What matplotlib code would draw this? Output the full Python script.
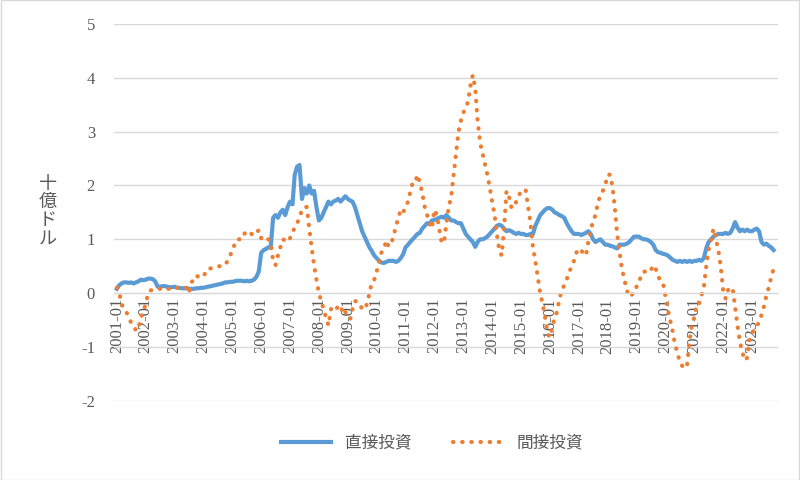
import matplotlib.pyplot as plt
import matplotlib.dates as mdates
import numpy as np
import pandas as pd

# monthly values, 2001-01 .. 2023-10 (billion USD)
direct = [
    0.08, 0.15, 0.18, 0.2, 0.2, 0.19, 0.2, 0.18, 0.2, 0.22, 0.25, 0.24,
    0.25, 0.27, 0.27, 0.26, 0.22, 0.12, 0.12, 0.13, 0.13, 0.12, 0.11, 0.11,
    0.12, 0.1, 0.1, 0.09, 0.09, 0.09, 0.08, 0.08, 0.08, 0.09, 0.09, 0.1,
    0.1, 0.11, 0.12, 0.13, 0.14, 0.15, 0.16, 0.17, 0.18, 0.2, 0.2, 0.21,
    0.21, 0.22, 0.23, 0.23, 0.23, 0.22, 0.23, 0.22, 0.23, 0.25, 0.3, 0.4,
    0.75, 0.8, 0.82, 0.85, 0.85, 1.4, 1.45, 1.4, 1.5, 1.55, 1.45, 1.6,
    1.7, 1.65, 2.2, 2.35, 2.38, 1.75, 1.95, 1.85, 2.0, 1.85, 1.9, 1.6,
    1.35, 1.4, 1.5, 1.6, 1.7, 1.65, 1.7, 1.72, 1.75, 1.7, 1.75, 1.8,
    1.75, 1.72, 1.7, 1.6, 1.45, 1.3, 1.15, 1.05, 0.95, 0.85, 0.78, 0.7,
    0.65, 0.6, 0.57, 0.56, 0.58, 0.6, 0.6, 0.6, 0.58, 0.6, 0.65, 0.72,
    0.85, 0.9, 0.95, 1.0, 1.05, 1.1, 1.12, 1.2, 1.25, 1.3, 1.28, 1.35,
    1.36, 1.38, 1.4, 1.42, 1.4, 1.45, 1.4, 1.35, 1.35, 1.32, 1.3, 1.3,
    1.2, 1.1, 1.05, 1.0, 0.95, 0.86, 0.95, 1.0, 1.0, 1.02, 1.05, 1.1,
    1.15, 1.2, 1.25, 1.27, 1.25, 1.2, 1.15, 1.17, 1.15, 1.12, 1.1, 1.12,
    1.1, 1.1, 1.08, 1.08, 1.1, 1.1, 1.25, 1.35, 1.45, 1.5, 1.55, 1.58,
    1.58, 1.55, 1.5, 1.48, 1.45, 1.43, 1.4, 1.3, 1.22, 1.15, 1.1, 1.1,
    1.1, 1.08, 1.1, 1.12, 1.15, 1.1, 1.0, 0.95, 0.98, 1.0, 0.95, 0.9,
    0.9, 0.88, 0.87, 0.85, 0.83, 0.9, 0.9, 0.9, 0.92, 0.95, 1.0, 1.05,
    1.05, 1.05, 1.02, 1.0, 1.0, 0.98, 0.95, 0.9, 0.8, 0.76, 0.75, 0.73,
    0.72, 0.7, 0.66, 0.62, 0.6, 0.58, 0.6, 0.58, 0.6, 0.58, 0.6, 0.58,
    0.6, 0.6, 0.62, 0.6, 0.65, 0.83, 0.95, 1.0, 1.05, 1.08, 1.1, 1.1,
    1.1, 1.12, 1.1, 1.12, 1.2, 1.32, 1.22, 1.15, 1.18, 1.15, 1.18, 1.15,
    1.15, 1.18, 1.2, 1.15, 0.95, 0.9, 0.92, 0.88, 0.85, 0.8,
]
indirect = [
    0.1, 0.0, -0.2, -0.3, -0.35, -0.45, -0.55, -0.6, -0.7, -0.65, -0.45, -0.35,
    -0.2, 0.0, 0.05, 0.06, 0.08, 0.08, 0.08, 0.08, 0.1, 0.08, 0.08, 0.1,
    0.1, 0.1, 0.08, 0.1, 0.1, 0.1, 0.0, 0.2, 0.25, 0.33, 0.3, 0.3,
    0.3, 0.4, 0.46, 0.46, 0.47, 0.48, 0.5, 0.5, 0.5, 0.52, 0.6, 0.67,
    0.83, 0.9, 1.0, 1.0, 1.0, 1.1, 1.15, 1.15, 1.1, 1.07, 1.12, 1.17,
    1.02, 1.05, 1.05, 1.0, 0.93, 0.6, 0.52, 0.7, 0.85, 1.0, 0.98, 0.95,
    1.02, 1.15, 1.2, 1.3, 1.4, 1.55, 1.6, 1.6, 1.2, 0.85, 0.52, 0.25,
    0.0, -0.15, -0.3, -0.45, -0.6, -0.3, -0.25, -0.3, -0.25, -0.22, -0.4, -0.35,
    -0.45, -0.48, -0.3, -0.15, -0.15, -0.2, -0.3, -0.3, -0.2, 0.0, 0.2, 0.25,
    0.4, 0.6, 0.75, 0.8, 0.98, 0.87, 0.9, 1.06, 1.23, 1.4, 1.55, 1.5,
    1.6, 1.7, 1.88, 2.05, 2.05, 2.2, 2.05, 1.86, 1.6, 1.45, 1.3, 1.2,
    1.55, 1.45, 1.2, 0.95, 0.93, 1.3, 1.6, 1.8, 2.2, 2.6, 3.0, 3.2,
    3.35, 3.45, 3.55, 3.85, 4.05, 3.8, 3.2, 2.8, 2.6, 2.4, 2.2, 1.97,
    1.7, 1.45, 1.1, 0.8, 0.7, 1.2, 1.9, 1.8, 1.6, 1.58, 1.7, 1.8,
    1.9, 1.9, 1.92, 1.6, 1.3, 0.85, 0.6, 0.3, 0.0, -0.2, -0.45, -0.75,
    -0.82, -0.65, -0.45, -0.35, -0.1, 0.05, 0.15, 0.25, 0.4, 0.48, 0.6, 0.75,
    0.83, 0.8, 0.72, 0.7, 0.95, 1.15, 1.35, 1.45, 1.7, 1.8, 1.9, 2.0,
    2.2, 2.2, 2.0, 1.6, 1.1, 0.75, 0.45, 0.25, 0.05, -0.07, -0.03, 0.0,
    0.12, 0.18, 0.35, 0.4, 0.4, 0.38, 0.42, 0.52, 0.45, 0.3, 0.25, 0.2,
    -0.05, -0.3, -0.5, -0.7, -0.95, -1.1, -1.28, -1.35, -1.4, -1.35, -0.9, -0.6,
    -0.45, -0.2, -0.2, -0.05, 0.1, 0.5, 0.8, 1.0, 1.2, 1.0, 0.8, 0.5,
    0.05, -0.1, 0.05, 0.1, 0.1, -0.25, -0.6, -0.9, -1.1, -1.25, -1.2, -0.85,
    -0.75, -0.65, -0.6, -0.55, -0.4, -0.25, -0.05, 0.1, 0.3, 0.45,
]
months = pd.date_range("2001-01-01", periods=len(direct), freq="MS")
tick_years = list(range(2001, 2024))

serif = ["Liberation Serif", "Noto Sans CJK JP"]
jp = "Noto Sans CJK JP"

fig = plt.figure(figsize=(8, 4.8), dpi=100)
fig.patches.append(plt.Rectangle((0.001, 0.001), 0.998, 0.998, transform=fig.transFigure,
                                 fill=False, edgecolor="#d9d9d9", linewidth=1))
ax = fig.add_axes([0.143, 0.165, 0.83, 0.785])

ax.plot(months, direct, color="#5b9bd5", linewidth=3, label="直接投資", solid_joinstyle="round")
ax.plot(months, indirect, color="#ed7d31", linewidth=3, linestyle=(0, (0.1, 2.1)),
        dash_capstyle="round", label="間接投資")

ax.set_ylim(-2, 5)
ax.set_xlim(pd.Timestamp("2000-12-01"), pd.Timestamp("2023-12-01"))
ax.set_yticks(range(-2, 6))
ax.set_yticklabels([str(v) for v in range(-2, 6)], fontfamily=serif, fontsize=12, color="#595959")
ax.grid(axis="y", color="#d9d9d9", linewidth=1)
ax.set_axisbelow(True)
for s in ax.spines.values():
    s.set_visible(False)
ax.spines["bottom"].set_visible(True)
ax.spines["bottom"].set_position(("data", 0))
ax.spines["bottom"].set_color("#d9d9d9")
ax.tick_params(axis="both", length=0)
ax.tick_params(axis="y", pad=14)

ticks = [pd.Timestamp(f"{y}-01-01") for y in tick_years]
ax.set_xticks(ticks)
ax.set_xticklabels([f"{y}-01" for y in tick_years], rotation=90, fontfamily=serif,
                   fontsize=12, color="#595959")

fig.text(0.06, 0.56, "十\n億\nド\nル", fontfamily=jp, fontsize=13, color="#595959",
         ha="center", va="center", linespacing=1.0)

leg = fig.legend(loc="center", bbox_to_anchor=(0.54, 0.077), ncol=2, frameon=False,
                 prop={"family": jp, "size": 12}, handlelength=3.0, columnspacing=2.5)
for t in leg.get_texts():
    t.set_color("#595959")

fig.savefig("out.png", dpi=100)
